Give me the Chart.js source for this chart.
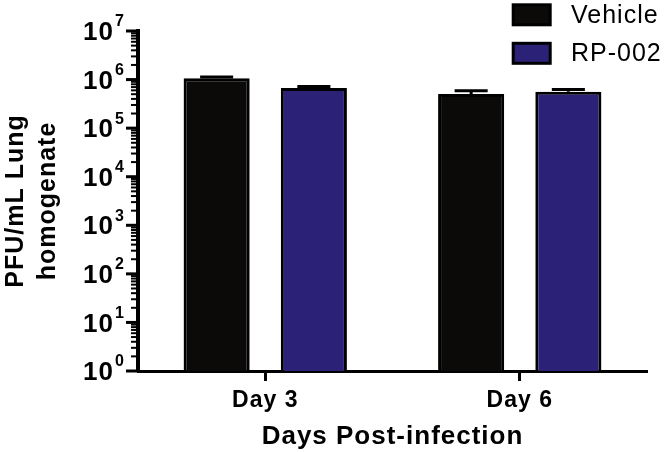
<!DOCTYPE html>
<html>
<head>
<meta charset="utf-8">
<script src="https://cdn.jsdelivr.net/npm/chart.js@4/dist/chart.umd.min.js"></script>
<style>
  html, body { margin: 0; padding: 0; background: #fff; }
</style>
</head>
<body>
<canvas id="titerChart" width="666" height="452"></canvas>
<script>
const days = ['Day 3', 'Day 6']
const groups = ['Vehicle', 'RP-002']
const vehicleTiter = [1.06e6, 5.05e5]
const vehicleUpper = [1.13e6, 5.87e5]
const rp002Titer = [6.7e5, 5.62e5]
const rp002Upper = [7.2e5, 6.25e5]
const yExponents = [0, 1, 2, 3, 4, 5, 6, 7]
const yTitle = ['PFU/mL Lung', 'homogenate']
const xTitle = 'Days Post-infection'

const fontFamily = "'Liberation Sans', Arial, Helvetica, sans-serif"
Chart.defaults.font.family = fontFamily
Chart.defaults.color = '#000'

// wider letter spacing, the original lettering runs a bit wide
const spacing = {
    id: 'spacing',
    beforeDraw(chart) {
        chart.ctx.letterSpacing = '1px'
    }
}

// log axis: long ticks at decades, short ones between, 10 with exponent labels
const logTicks = {
    id: 'logTicks',
    afterDraw(chart) {
        const ctx = chart.ctx
        const y = chart.scales.y
        const edge = chart.chartArea.left
        ctx.save()
        ctx.strokeStyle = '#000'
        ctx.fillStyle = '#000'
        ctx.lineCap = 'butt'
        yExponents.forEach((e, k) => {
            const py = y.getPixelForValue(Math.pow(10, e))
            ctx.lineWidth = 3
            ctx.beginPath()
            ctx.moveTo(edge - 12, py)
            ctx.lineTo(edge, py)
            ctx.stroke()
            if (k < yExponents.length - 1) {
                ctx.lineWidth = 2
                for (let m = 2; m <= 9; m++) {
                    const pm = y.getPixelForValue(m * Math.pow(10, e))
                    ctx.beginPath()
                    ctx.moveTo(edge - 7, pm)
                    ctx.lineTo(edge, pm)
                    ctx.stroke()
                }
            }
            ctx.font = `bold 26px ${fontFamily}`
            ctx.textAlign = 'right'
            ctx.textBaseline = 'middle'
            ctx.fillText('10', 114, py + 2)
            ctx.font = `bold 16px ${fontFamily}`
            ctx.textAlign = 'left'
            ctx.textBaseline = 'top'
            ctx.fillText(String(e), 115, py - 17)
        })
        ctx.restore()
    }
}

// upward error bars with caps half the bar width
const errorBars = {
    id: 'errorBars',
    afterDatasetsDraw(chart) {
        const ctx = chart.ctx
        const y = chart.scales.y
        ctx.save()
        ctx.strokeStyle = '#000'
        ctx.lineWidth = 3
        chart.data.datasets.forEach((ds, i) => {
            chart.getDatasetMeta(i).data.forEach((bar, j) => {
                const top = y.getPixelForValue(ds.upper[j])
                const half = bar.width / 4
                ctx.beginPath()
                ctx.moveTo(bar.x, bar.y)
                ctx.lineTo(bar.x, top)
                ctx.moveTo(bar.x - half, top)
                ctx.lineTo(bar.x + half, top)
                ctx.stroke()
            })
        })
        ctx.restore()
    }
}

// legend stacked in the top right corner
const boxLegend = {
    id: 'boxLegend',
    afterDraw(chart) {
        const ctx = chart.ctx
        ctx.save()
        chart.data.datasets.forEach((ds, i) => {
            const top = 4.8 + i * 38.5
            ctx.fillStyle = ds.backgroundColor
            ctx.fillRect(513.2, top, 37, 20)
            ctx.strokeStyle = '#000'
            ctx.lineWidth = 3
            ctx.strokeRect(513.2, top, 37, 20)
            ctx.fillStyle = '#000'
            ctx.font = `25px ${fontFamily}`
            ctx.textAlign = 'left'
            ctx.textBaseline = 'middle'
            ctx.fillText(ds.label, 571, top + 11)
        })
        ctx.restore()
    }
}

const ctx = document.getElementById('titerChart').getContext('2d')
new Chart(ctx, {
    type: 'bar',
    data: {
        labels: days,
        datasets: [{
            label: groups[0],
            data: vehicleTiter,
            upper: vehicleUpper,
            backgroundColor: '#0b0a08',
            borderColor: '#000',
            borderWidth: 3,
            categoryPercentage: 0.764,
            barPercentage: 0.68
        }, {
            label: groups[1],
            data: rp002Titer,
            upper: rp002Upper,
            backgroundColor: '#2b2277',
            borderColor: '#000',
            borderWidth: 3,
            categoryPercentage: 0.764,
            barPercentage: 0.68
        }]
    },
    options: {
        responsive: false,
        animation: false,
        layout: { padding: { top: 31, right: 19, bottom: 0, left: 0 } },
        plugins: {
            legend: { display: false },
            tooltip: { enabled: false }
        },
        scales: {
            x: {
                offset: true,
                grid: { display: true, drawOnChartArea: false, offset: false, tickLength: 10, tickWidth: 3, tickColor: '#000' },
                border: { display: true, width: 3, color: '#000' },
                ticks: { color: '#000', padding: 6, font: { size: 23, weight: 'bold' } },
                title: { display: true, text: xTitle, color: '#000', padding: { top: 0, bottom: 0 }, font: { size: 26, weight: 'bold' } },
                afterFit: scale => { scale.height = 81 }
            },
            y: {
                type: 'logarithmic',
                min: 1,
                max: 1e7,
                grid: { display: false },
                border: { display: true, width: 4, color: '#000' },
                ticks: { display: false },
                title: { display: true, text: yTitle, color: '#000', padding: { top: 0, bottom: 0 }, font: { size: 25, weight: 'bold', lineHeight: 1.28 } },
                afterFit: scale => { scale.width = 138 }
            }
        }
    },
    plugins: [spacing, errorBars, logTicks, boxLegend]
})
</script>
</body>
</html>
